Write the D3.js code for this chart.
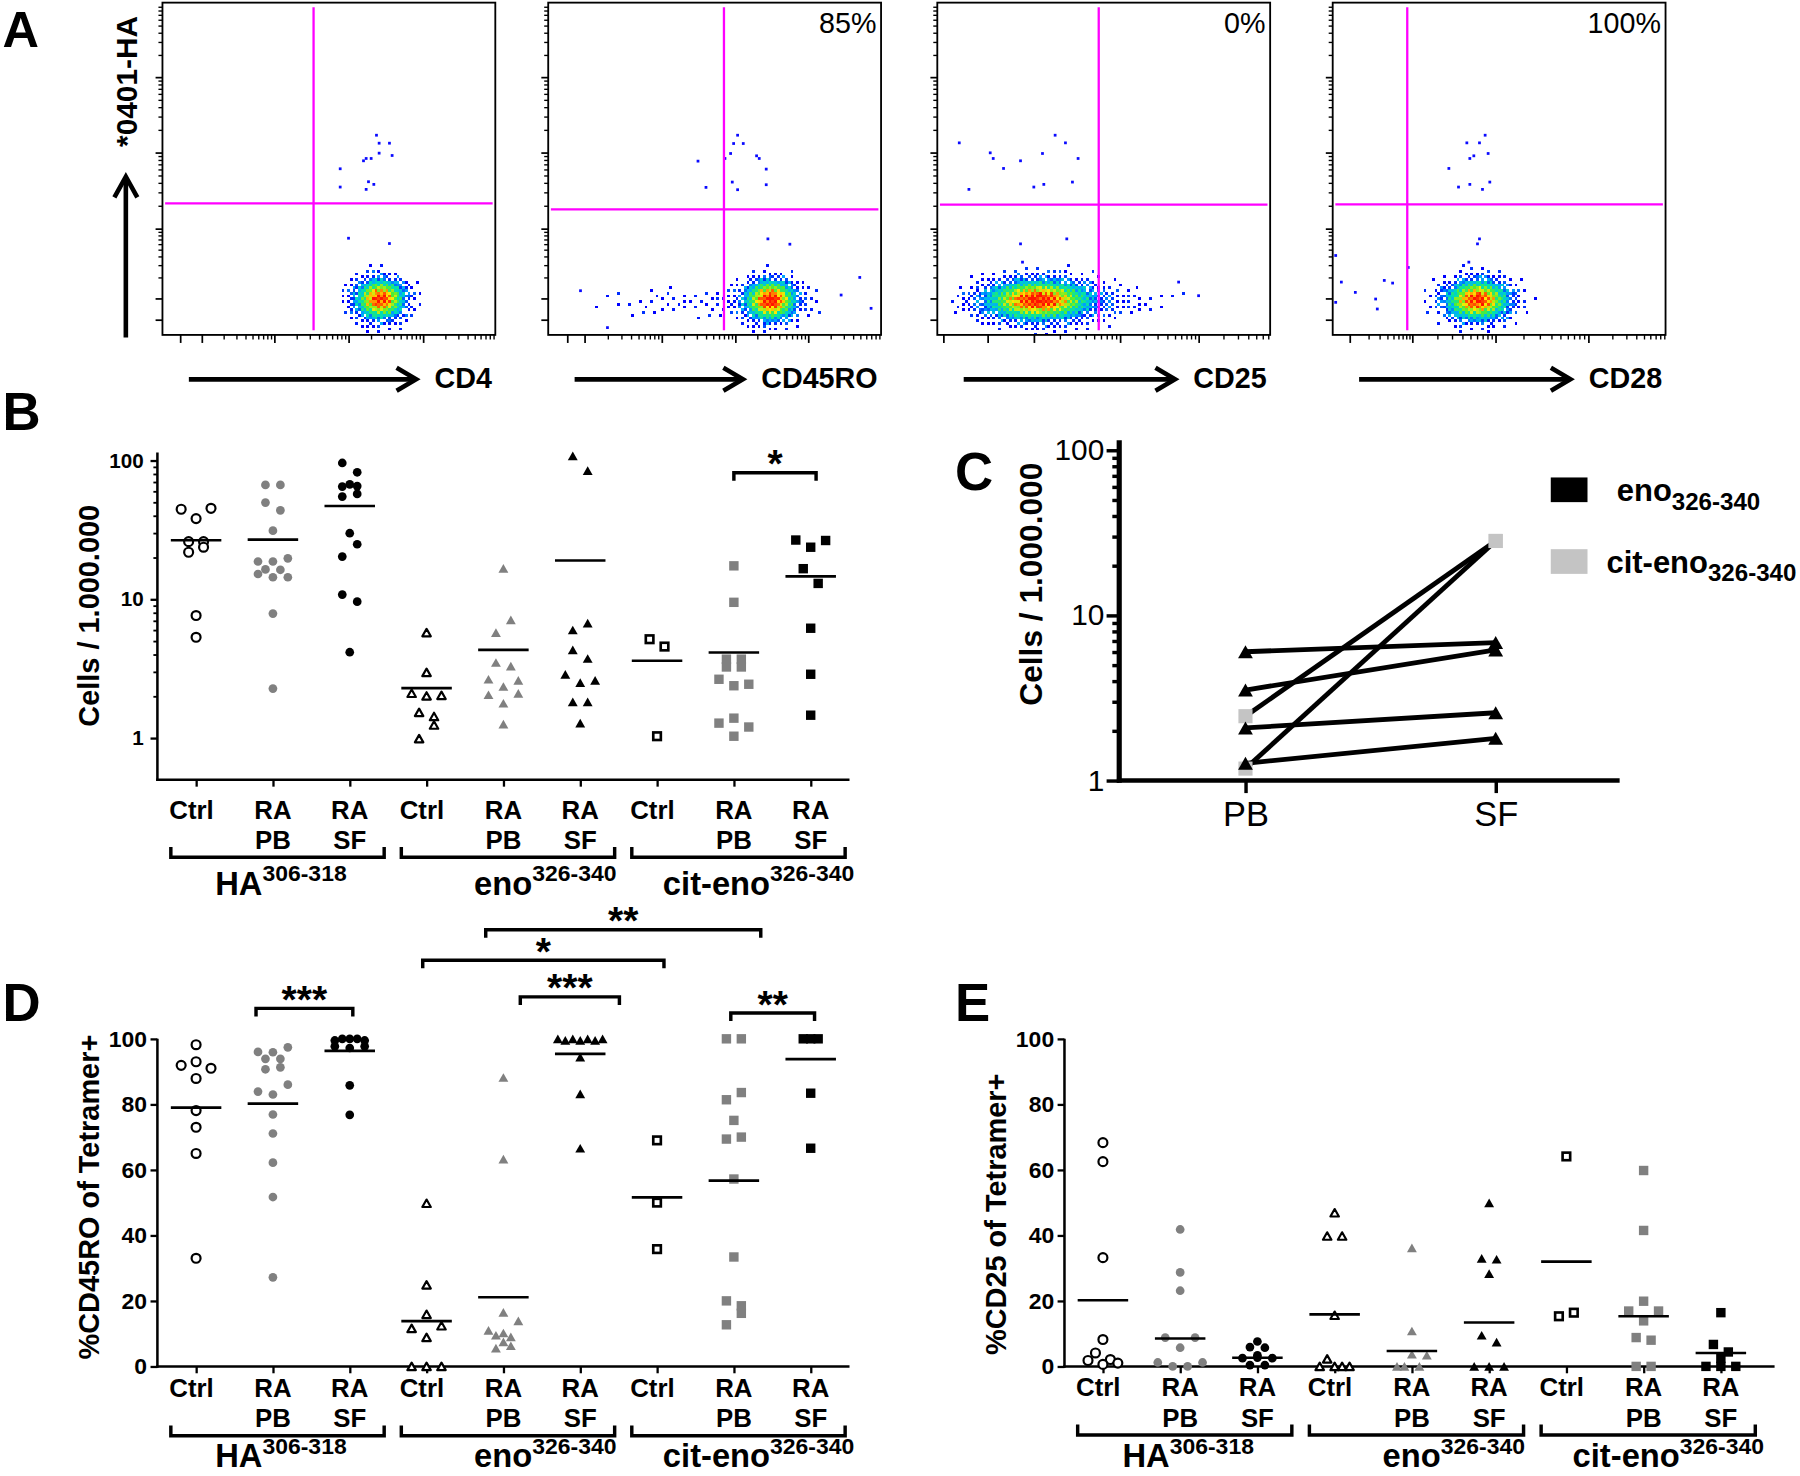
<!DOCTYPE html>
<html>
<head>
<meta charset="utf-8">
<script src="https://cdn.jsdelivr.net/npm/d3@7/dist/d3.min.js"></script>
<style>
html,body{margin:0;padding:0;background:#fff;}
svg{display:block;}
</style>
</head>
<body>
<svg id="fig" width="1800" height="1476" viewBox="0 0 1568 1286"></svg>
<script>
const FONT = "'Liberation Sans', Arial, Helvetica, sans-serif";

/* ================= DATA ================= */
/* Panel A : flow cytometry plots (axis units 0-100 of each display axis) */
const flowMarkers = ["CD4", "CD45RO", "CD25", "CD28"];
const flowPercent = ["", "85%", "0%", "100%"];
const flowGateX = [45.4, 52.8, 48.5, 22.4];
const flowGateY = [39.6, 37.8, 39.2, 39.3];
const flowXMajors = [[5.3, 11.8, 33.6, 55.9, 78.3], [5.7, 10.9, 34.1, 56.2, 78.1], [1.8, 15.1, 29.0, 54.9, 78.5], [5.1, 23.9, 48.9, 76.8]];
const flowYMajors = [4.6, 11.0, 32.0, 54.9, 77.6];
const flowClusters = [
  [{cx: 65.4, cy: 10.8, sx: 4.8, sy: 3.9, a: 1}],
  [{cx: 66.8, cy: 10.5, sx: 4.8, sy: 3.9, a: 1}, {cx: 50, cy: 10, sx: 24, sy: 3.4, a: 0.07}],
  [{cx: 30, cy: 10.5, sx: 10, sy: 3.9, a: 1}, {cx: 50, cy: 10, sx: 16, sy: 3.6, a: 0.07}],
  [{cx: 43.5, cy: 10.5, sx: 6.2, sy: 3.9, a: 1}]
];
const flowSparse = [
  [[64.3,60.1],[65.1,57.7],[68.2,57.7],[65.1,54.7],[69.0,54.0],[60.4,52.4],[61.2,53.1],[62.7,53.1],[53.4,50.0],[53.4,44.5],[61.9,46.1],[63.5,45.3],[61.2,43.8],[55.9,29.1],[68.2,27.5]],
  [[56.9,60.1],[55.7,57.6],[58.6,57.6],[54.8,54.6],[53.1,53.1],[62.6,53.9],[63.4,53.1],[45.0,52.3],[65.5,49.9],[47.4,44.4],[55.3,46.0],[56.9,43.7],[65.5,45.2],[66.0,28.9],[72.6,27.3],[9.7,13.3],[17.8,2.2],[93.6,17.3],[88.0,12.0],[97.0,8.0]],
  [[6.6,57.8],[35.4,60.1],[38.5,57.8],[15.9,54.8],[16.8,53.1],[31.6,54.6],[42.3,53.1],[19.9,50.1],[25.0,52.4],[9.5,43.8],[29.0,44.5],[32.0,45.3],[40.6,46.0],[25.0,27.4],[38.9,28.9],[25.6,21.9],[78.5,11.8],[72.5,15.9]],
  [[45.8,60.1],[40.3,57.8],[44.1,57.8],[42.4,53.9],[41.2,53.1],[46.7,54.6],[34.9,50.1],[37.8,44.5],[41.2,45.3],[47.2,46.0],[45.0,43.8],[44.1,28.9],[43.5,27.4],[40.9,21.9],[0.9,23.9],[2.6,15.9],[6.8,12.8],[12.9,10.8],[13.4,7.8],[15.5,16.4],[18.0,15.6],[0.9,9.8],[22.7,20.3]]
];

/* Categories shared by B, D, E */
const catLine1 = ["Ctrl","RA","RA","Ctrl","RA","RA","Ctrl","RA","RA"];
const catLine2 = ["","PB","SF","","PB","SF","","PB","SF"];
const groupName = ["HA","eno","cit-eno"];
const groupSup = ["306-318","326-340","326-340"];

/* Panel B : Cells / 1.000.000 (rows of points at similar height) */
const cellsB_HA = [
  [[44.5,38.1,45.2],[26.0,26.0],[21.8,23.7],[7.63],[5.32]],
  [[66.6,66.6],[49.7,43.7],[31.2],[18.7,18.7,19.7],[16.4,16.3],[15.2,14.4,14.4],[7.88],[2.27]],
  [[95.9,82.2],[67.3],[64.8,65.4],[54.9,57.4],[29.9],[20.3,24.9],[10.8,9.6],[4.15]]
];
const cellsB_eno = [
  [[5.75],[2.97],[2.10,2.01,2.03],[1.53,1.43],[0.99,1.24]],
  [[16.7],[5.75,7.1],[3.5,3.3],[2.65,2.35,2.6],[2.05,1.78,2.1],[1.26]],
  [[108,84.6],[6.0,6.72],[4.31,3.74],[2.87,2.51,2.6],[1.82,1.82],[1.28]]
];
const cellsB_cit = [
  [[5.15,4.56],[1.03]],
  [[17.4],[9.5],[3.7,3.7],[3.25,3.25],[2.65,2.38,2.44],[1.28,1.39,1.2],[1.03]],
  [[26.7,23.7,26.5],[16.6,13.0],[6.18],[2.88],[1.46]]
];
const cellsB_mean = [26.6, 26.9, 47.0, 2.29, 4.32, 19.0, 3.6, 4.13, 14.6];
const cellsB_ticks = [1, 10, 100];
const sigB_from = [7.0], sigB_to = [8.07], sigB_level = [81.5], sigB_label = ["*"];

/* Panel C : paired PB / SF */
const pairedLabels = ["PB", "SF"];
const pairedEnoPB = [6.02, 3.53, 2.08, 1.27];
const pairedEnoSF = [6.84, 6.17, 2.57, 1.80];
const pairedCitPB = [2.45, 1.18];
const pairedCitSF = [28.2, 28.2];
const pairedTicks = [1, 10, 100];
const legendName = ["eno", "cit-eno"];
const legendSub = ["326-340", "326-340"];

/* Panel D : %CD45RO of Tetramer+ */
const cd45D_HA = [
  [[98.2],[91.9,93.0,91.0],[87.9],[78.1],[73.0],[65.0],[33.0]],
  [[96.0,95.9,97.4],[93.9,93.9],[90.7,91.3],[83.9,83.0,86.0],[76.9],[71.1],[62.2],[51.7],[27.2]],
  [[99.5,100,99.5],[100,100],[97.7,97.2,97.7],[85.8],[76.8]]
];
const cd45D_eno = [
  [[49.8],[24.9],[15.9],[11.6,8.85,12.4],[0,0,0]],
  [[88.2],[63.3],[16.5],[11.0,10.2,13.9],[9.5,9.0],[7.5],[5.6,6.3]],
  [[100,100,100,100],[99.5,99.5,99.5],[94.4],[83.2],[66.6]]
];
const cd45D_cit = [
  [[69.0],[50.0],[35.8]],
  [[100,100],[81.4,83.6],[75.1],[69.4,70.0],[57.2],[33.4],[20.0,18.5],[12.7,16.2]],
  [[100,100],[100],[83.4],[66.6]]
];
const cd45D_mean = [79.0, 80.2, 96.3, 13.8, 21.1, 95.4, 51.6, 56.7, 93.8];
const pctTicks = [0, 20, 40, 60, 80, 100];
const sigD_from = [0.78, 3.77, 2.95, 4.22, 6.96];
const sigD_to = [2.04, 7.35, 6.09, 5.51, 8.05];
const sigD_level = [109.3, 133.3, 124.0, 112.8, 107.9];
const sigD_label = ["***", "**", "*", "***", "**"];

/* Panel E : %CD25 of Tetramer+ */
const cd25E_HA = [
  [[68.3],[62.5],[33.2],[8.2],[4.1,2.1],[1.8,0.6,1.0]],
  [[41.8],[28.7],[23.1],[8.8,5.7,8.8],[1.2,0,0,1.2]],
  [[7.6],[5.9,5.7],[3.4],[2.5,2.7,2.5],[0.4,0.4]]
];
const cd25E_eno = [
  [[46.9],[39.8,39.8],[15.6],[2.3,0],[0,0,0]],
  [[36.2],[10.8],[0,3.7,3.4],[0,0]],
  [[49.9],[33.0,32.7],[28.3],[9.5,7.4],[0,0,0]]
];
const cd25E_cit = [
  [[64.1],[15.3,16.4]],
  [[59.8],[41.5],[19.9],[16.9,13.9,16.9],[8.8,8.0],[0,0]],
  [[16.4],[6.7,4.4],[2.5],[0,0,0]]
];
const cd25E_mean = [20.2, 8.5, 2.65, 15.9, 4.7, 13.4, 32.0, 15.3, 4.1];

/* ================= STYLE ================= */
const catShape = ["circle","circle","circle","triangle","triangle","triangle","square","square","square"];
const catFill = ["open","gray","black","open","gray","black","open","gray","black"];

/* ================= DRAW ================= */
const svg = d3.select("#fig");
svg.append("rect").attr("width", 1568).attr("height", 1286).attr("fill", "#fff");
const defs = svg.append("defs");

function label(parent, str, x, y, size, weight, anchor) {
  return parent.append("text").attr("x", x).attr("y", y)
    .attr("font-family", FONT).attr("font-size", size)
    .attr("font-weight", weight || "bold").attr("text-anchor", anchor || "start")
    .attr("fill", "#000").text(str);
}
function styleAxis(sel, size, weight, sw) {
  sel.select(".domain").remove();
  sel.selectAll("line").attr("stroke", "#000").attr("stroke-width", sw);
  sel.selectAll("text").attr("font-family", FONT).attr("font-size", size)
    .attr("font-weight", weight).attr("fill", "#000");
}

/* panel letters */
[["A",2,41,44],["B",2,375,46],["C",832,427,46],["D",2,890,46],["E",832,890,46]].forEach(([t,x,y,s]) => label(svg, t, x, y, s, "bold"));

/* ---------- Panel A ---------- */
function bayerMatrix(n) {
  let m = [[0]];
  while (m.length < n) {
    const s = m.length, r = [];
    for (let i = 0; i < 2*s; i++) r.push(new Array(2*s));
    for (let i = 0; i < s; i++) for (let j = 0; j < s; j++) {
      const v = 4*m[i][j];
      r[i][j] = v; r[i][j+s] = v+2; r[i+s][j] = v+3; r[i+s][j+s] = v+1;
    }
    m = r;
  }
  return m;
}
const BAYER = bayerMatrix(8);
function dither(i, j) {
  // ordered-dither threshold, tile shifted per 8x8 block to avoid a visible lattice
  const bi = Math.floor(i / 8), bj = Math.floor(j / 8);
  return (BAYER[(i + bj*3) % 8][(j + bi*5) % 8] + 0.5) / 64;
}
const jet = d3.scaleLinear().domain([0, 0.16, 0.3, 0.46, 0.62, 0.78, 1])
  .range(["#0000ff", "#0038ff", "#00aaff", "#00e0b0", "#50ee30", "#ffe800", "#ff1400"]).clamp(true);

function flowMinor(majors) {
  const out = [], gaps = [];
  for (let k = 0; k < majors.length - 1; k++) {
    const gp = majors[k+1] - majors[k];
    if (gp >= 15) { gaps.push(gp); for (let m = 2; m < 10; m++) out.push(majors[k] + gp*Math.log10(m)); }
  }
  const L = d3.mean(gaps);
  let base = majors[majors.length - 1];
  while (base < 100) {
    for (let m = 2; m < 10; m++) { const v = base + L*Math.log10(m); if (v <= 100) out.push(v); }
    base += L;
  }
  return out;
}

const flowLeft = [141.4, 477.5, 816.5, 1161.0];
const flowWidth = 290, flowTop = 2.3, flowBottom = 291.8, flowCell = 2.4;

flowMarkers.forEach((name, p) => {
  const x0 = flowLeft[p];
  const x = d3.scaleLinear().domain([0, 100]).range([x0, x0 + flowWidth]);
  const y = d3.scaleLinear().domain([0, 100]).range([flowBottom, flowTop]);
  const g = svg.append("g");
  defs.append("clipPath").attr("id", "fc" + p).append("rect")
    .attr("x", x0).attr("y", flowTop).attr("width", flowWidth).attr("height", flowBottom - flowTop);
  const dg = g.append("g").attr("clip-path", `url(#fc${p})`);
  const nx = Math.ceil(flowWidth / flowCell), ny = Math.ceil((flowBottom - flowTop) / flowCell);
  const cells = [];
  for (let i = 0; i < nx; i++) for (let j = 0; j < ny; j++) {
    const ux = x.invert(x0 + (i + 0.5)*flowCell), uy = y.invert(flowTop + (j + 0.5)*flowCell);
    let d = 0;
    flowClusters[p].forEach(c => { d += c.a*Math.exp(-0.5*((ux - c.cx)/c.sx)**2 - 0.5*((uy - c.cy)/c.sy)**2); });
    const b = dither(i, j);
    if (d > 0.015 + b*0.34) cells.push({i, j, d: d + (dither(i + 3, j + 6) - 0.5)*0.3});
  }
  dg.append("g").selectAll("rect").data(cells).join("rect")
    .attr("x", c => x0 + c.i*flowCell).attr("y", c => flowTop + c.j*flowCell)
    .attr("width", flowCell + 0.05).attr("height", flowCell + 0.05)
    .attr("fill", c => jet(c.d)).attr("shape-rendering", "crispEdges");
  dg.append("g").selectAll("rect").data(flowSparse[p]).join("rect")
    .attr("x", d => x(d[0]) - 1.2).attr("y", d => y(d[1]) - 1.2)
    .attr("width", 2.4).attr("height", 2.4).attr("fill", "#0a0aff");
  // gates
  g.append("line").attr("x1", x(flowGateX[p])).attr("x2", x(flowGateX[p]))
    .attr("y1", y(98.6)).attr("y2", y(1.4)).attr("stroke", "#ff00ff").attr("stroke-width", 2);
  g.append("line").attr("x1", x(0.8)).attr("x2", x(99.2))
    .attr("y1", y(flowGateY[p])).attr("y2", y(flowGateY[p])).attr("stroke", "#ff00ff").attr("stroke-width", 2);
  // frame
  g.append("rect").attr("x", x0).attr("y", flowTop).attr("width", flowWidth).attr("height", flowBottom - flowTop)
    .attr("fill", "none").attr("stroke", "#000").attr("stroke-width", 1.6);
  // ticks
  const ax1 = g.append("g").attr("transform", `translate(0,${flowBottom})`)
    .call(d3.axisBottom(x).tickValues(flowXMajors[p]).tickSize(7).tickFormat(""));
  styleAxis(ax1, 10, "normal", 1.5);
  const ax2 = g.append("g").attr("transform", `translate(0,${flowBottom})`)
    .call(d3.axisBottom(x).tickValues(flowMinor(flowXMajors[p])).tickSize(4).tickFormat(""));
  styleAxis(ax2, 10, "normal", 1.2);
  const ay1 = g.append("g").attr("transform", `translate(${x0},0)`)
    .call(d3.axisLeft(y).tickValues(flowYMajors).tickSize(6).tickFormat(""));
  styleAxis(ay1, 10, "normal", 1.5);
  const ay2 = g.append("g").attr("transform", `translate(${x0},0)`)
    .call(d3.axisLeft(y).tickValues(flowMinor(flowYMajors)).tickSize(3.5).tickFormat(""));
  styleAxis(ay2, 10, "normal", 1.2);
  // percentage
  if (flowPercent[p]) label(g, flowPercent[p], x0 + flowWidth - 4, 29, 25, "normal", "end");
  // arrow + marker label
  const lab = label(g, name, x0 + flowWidth - 3, 338, 25, "bold", "end");
  const lw = lab.node().getComputedTextLength();
  const tip = x0 + flowWidth - 3 - lw - 16;
  const ay = 330.5;
  g.append("line").attr("x1", x0 + 23).attr("x2", tip - 2).attr("y1", ay).attr("y2", ay)
    .attr("stroke", "#000").attr("stroke-width", 4);
  g.append("path").attr("d", `M${tip - 17},${ay - 10}L${tip},${ay}L${tip - 17},${ay + 10}`)
    .attr("fill", "none").attr("stroke", "#000").attr("stroke-width", 4).attr("stroke-linejoin", "miter");
});
// y arrow of panel A
svg.append("line").attr("x1", 109.5).attr("x2", 109.5).attr("y1", 294).attr("y2", 157)
  .attr("stroke", "#000").attr("stroke-width", 4);
svg.append("path").attr("d", "M99.5,172L109.5,154L119.5,172").attr("fill", "none")
  .attr("stroke", "#000").attr("stroke-width", 4);
label(svg, "*0401-HA", 0, 0, 26, "bold", "middle").attr("transform", "translate(119,71) rotate(-90)");

/* ---------- markers ---------- */
function marker(g, shape, fill, x, y, big) {
  const col = fill === "gray" ? "#808080" : (fill === "lightgray" ? "#c4c4c4" : "#000");
  const open = fill === "open";
  const k = big || 1;
  if (shape === "circle") {
    g.append("circle").attr("cx", x).attr("cy", y).attr("r", open ? 3.9 : 3.8)
      .attr("fill", open ? "#fff" : col).attr("stroke", open ? "#000" : "none").attr("stroke-width", 1.9);
  } else if (shape === "triangle") {
    const s = (open ? 7.4 : 8.6)*k, h = s*0.88;
    g.append("path").attr("d", `M${x},${y - h/2}L${x + s/2},${y + h/2}L${x - s/2},${y + h/2}Z`)
      .attr("fill", open ? "#fff" : col).attr("stroke", open ? "#000" : "none")
      .attr("stroke-width", 1.9).attr("stroke-linejoin", "round");
  } else {
    const s = (open ? 6.6 : 8.2)*k;
    g.append("rect").attr("x", x - s/2).attr("y", y - s/2).attr("width", s).attr("height", s)
      .attr("fill", open ? "#fff" : col).attr("stroke", open ? "#000" : "none").attr("stroke-width", 2.3);
  }
}

/* ---------- scatter panels B, D, E ---------- */
function scatterPanel(o) {
  const g = svg.append("g");
  const cx = d3.scaleLinear().domain([0, 8]).range(o.catRange);
  const yTop = o.y.range()[1];
  const ya = g.append("g").attr("transform", `translate(${o.axisX},0)`)
    .call(d3.axisLeft(o.y).tickValues(o.ticks).tickFormat(d3.format("d")).tickSize(6).tickPadding(o.pad));
  styleAxis(ya, o.tickFont, "bold", 2);
  if (o.minor) {
    const ym = g.append("g").attr("transform", `translate(${o.axisX},0)`)
      .call(d3.axisLeft(o.y).tickValues(o.minor).tickSize(3.5).tickFormat(""));
    styleAxis(ym, 10, "normal", 1.6);
  }
  const xa = g.append("g").attr("transform", `translate(0,${o.axisY})`)
    .call(d3.axisBottom(cx).tickValues(d3.range(9)).tickSize(6).tickFormat(""));
  styleAxis(xa, 10, "normal", 2);
  g.append("line").attr("x1", o.axisX).attr("x2", o.axisX).attr("y1", yTop).attr("y2", o.axisY + 1.1)
    .attr("stroke", "#000").attr("stroke-width", 2.2);
  g.append("line").attr("x1", o.axisX - 1.1).attr("x2", o.axisRight).attr("y1", o.axisY).attr("y2", o.axisY)
    .attr("stroke", "#000").attr("stroke-width", 2.2);
  o.rows.forEach((rows, i) => rows.forEach(row => row.forEach((v, k) => {
    marker(g, catShape[i], catFill[i], cx(i) + (k - (row.length - 1)/2)*13, o.y(v));
  })));
  o.means.forEach((m, i) => {
    g.append("line").attr("x1", cx(i) - 22).attr("x2", cx(i) + 22).attr("y1", o.y(m)).attr("y2", o.y(m))
      .attr("stroke", "#000").attr("stroke-width", 2.3);
  });
  catLine1.forEach((t, i) => label(g, t, cx(i) - (t === "Ctrl" ? 4 : 0), o.line1, 22.5, "bold", "middle"));
  catLine2.forEach((t, i) => { if (t) label(g, t, cx(i), o.line2, 22.5, "bold", "middle"); });
  const groupOff = [7, 36.5, 21.5];
  groupName.forEach((n, gi) => {
    const a = cx(gi*3) - 22, b = cx(gi*3 + 2) + 30;
    g.append("path").attr("d", `M${a},${o.bracketY - 9}V${o.bracketY}H${b}V${o.bracketY - 9}`)
      .attr("fill", "none").attr("stroke", "#000").attr("stroke-width", 3);
    const t = label(g, n, cx(gi*3 + 1) + groupOff[gi], o.groupBase, 28.5, "bold", "middle");
    t.append("tspan").attr("font-size", 20).attr("dy", -12).text(groupSup[gi]);
  });
  label(g, o.title, 0, 0, 25.2, "bold", "middle").attr("transform", `translate(${o.titleX},${o.titleY}) rotate(-90)`);
  if (o.sigFrom) o.sigFrom.forEach((f, s) => {
    const a = cx(f), b = cx(o.sigTo[s]), sy = o.y(o.sigLevel[s]);
    g.append("path").attr("d", `M${a},${sy + 7}V${sy}H${b}V${sy + 7}`)
      .attr("fill", "none").attr("stroke", "#000").attr("stroke-width", 3);
    label(g, o.sigLabel[s], (a + b)/2, sy + 4, 34, "bold", "middle");
  });
}

const minorB = [];
[1, 10].forEach(t => d3.range(2, 10).forEach(m => minorB.push(m*t)));

scatterPanel({
  y: d3.scaleLog().domain([0.5, 114]).range([679.4, 394.3]),
  catRange: [170.7, 706.2], axisX: 137, axisY: 679.4, axisRight: 740,
  ticks: cellsB_ticks, minor: minorB, pad: 6, tickFont: 18,
  rows: [...cellsB_HA, ...cellsB_eno, ...cellsB_cit], means: cellsB_mean,
  line1: 713.5, line2: 739.5, bracketY: 746.9, groupBase: 780,
  title: "Cells / 1.000.000", titleX: 86, titleY: 536.5,
  sigFrom: sigB_from, sigTo: sigB_to, sigLevel: sigB_level, sigLabel: sigB_label
});
scatterPanel({
  y: d3.scaleLinear().domain([0, 100]).range([1190.5, 905.1]),
  catRange: [170.7, 706.2], axisX: 137, axisY: 1190.5, axisRight: 740,
  ticks: pctTicks, pad: 3, tickFont: 20,
  rows: [...cd45D_HA, ...cd45D_eno, ...cd45D_cit], means: cd45D_mean,
  line1: 1217, line2: 1243.6, bracketY: 1250.9, groupBase: 1278.5,
  title: "%CD45RO of Tetramer+", titleX: 86, titleY: 1043,
  sigFrom: sigD_from, sigTo: sigD_to, sigLevel: sigD_level, sigLabel: sigD_label
});
scatterPanel({
  y: d3.scaleLinear().domain([0, 100]).range([1190.5, 905.1]),
  catRange: [960.8, 1499.2], axisX: 927.3, axisY: 1190.5, axisRight: 1546,
  ticks: pctTicks, pad: 3, tickFont: 20,
  rows: [...cd25E_HA, ...cd25E_eno, ...cd25E_cit], means: cd25E_mean,
  line1: 1216.7, line2: 1243, bracketY: 1250.2, groupBase: 1278.5,
  title: "%CD25 of Tetramer+", titleX: 876, titleY: 1058
});

/* ---------- Panel C ---------- */
(function () {
  const g = svg.append("g");
  const yC = d3.scaleLog().domain([1, 115]).range([680, 383.5]);
  const xC = d3.scalePoint().domain(pairedLabels).range([1085, 1303]);
  const minorC = [];
  [1, 10].forEach(t => d3.range(2, 10).forEach(m => minorC.push(m*t)));
  const ya = g.append("g").attr("transform", "translate(975,0)")
    .call(d3.axisLeft(yC).tickValues(pairedTicks).tickFormat(d3.format("d")).tickSize(11).tickPadding(2));
  styleAxis(ya, 26, "normal", 3);
  const ym = g.append("g").attr("transform", "translate(975,0)")
    .call(d3.axisLeft(yC).tickValues(minorC).tickSize(6).tickFormat(""));
  styleAxis(ym, 10, "normal", 3);
  const xa = g.append("g").attr("transform", "translate(0,680)")
    .call(d3.axisBottom(xC).tickSize(11).tickPadding(7));
  styleAxis(xa, 30, "normal", 3);
  g.append("line").attr("x1", 975).attr("x2", 975).attr("y1", 383.5).attr("y2", 682)
    .attr("stroke", "#000").attr("stroke-width", 4.5);
  g.append("line").attr("x1", 973).attr("x2", 1411).attr("y1", 680).attr("y2", 680)
    .attr("stroke", "#000").attr("stroke-width", 4);
  pairedEnoPB.forEach((v, i) => g.append("line").attr("x1", xC("PB")).attr("y1", yC(v))
    .attr("x2", xC("SF")).attr("y2", yC(pairedEnoSF[i])).attr("stroke", "#000").attr("stroke-width", 4.2));
  pairedCitPB.forEach((v, i) => g.append("line").attr("x1", xC("PB")).attr("y1", yC(v))
    .attr("x2", xC("SF")).attr("y2", yC(pairedCitSF[i])).attr("stroke", "#000").attr("stroke-width", 4.2));
  pairedCitPB.forEach((v, i) => {
    marker(g, "square", "lightgray", xC("PB"), yC(v), 1.5);
    marker(g, "square", "lightgray", xC("SF"), yC(pairedCitSF[i]), 1.5);
  });
  pairedEnoPB.forEach((v, i) => {
    marker(g, "triangle", "black", xC("PB"), yC(v), 1.5);
    marker(g, "triangle", "black", xC("SF"), yC(pairedEnoSF[i]), 1.5);
  });
  label(g, "Cells / 1.000.000", 0, 0, 27.6, "bold", "middle").attr("transform", "translate(908,509) rotate(-90)");
  const legFill = ["#000", "#c4c4c4"];
  const legY = [416, 478.5], legX = [1408.5, 1399.5];
  legendName.forEach((n, i) => {
    g.append("rect").attr("x", 1351).attr("y", legY[i]).attr("width", 32).attr("height", 21.5).attr("fill", legFill[i]);
    const t = label(g, n, legX[i], legY[i] + 20.5, 27, "bold", "start");
    t.append("tspan").attr("font-size", 21).attr("dy", 7.5).text(legendSub[i]);
  });
})();
</script>
</body>
</html>
